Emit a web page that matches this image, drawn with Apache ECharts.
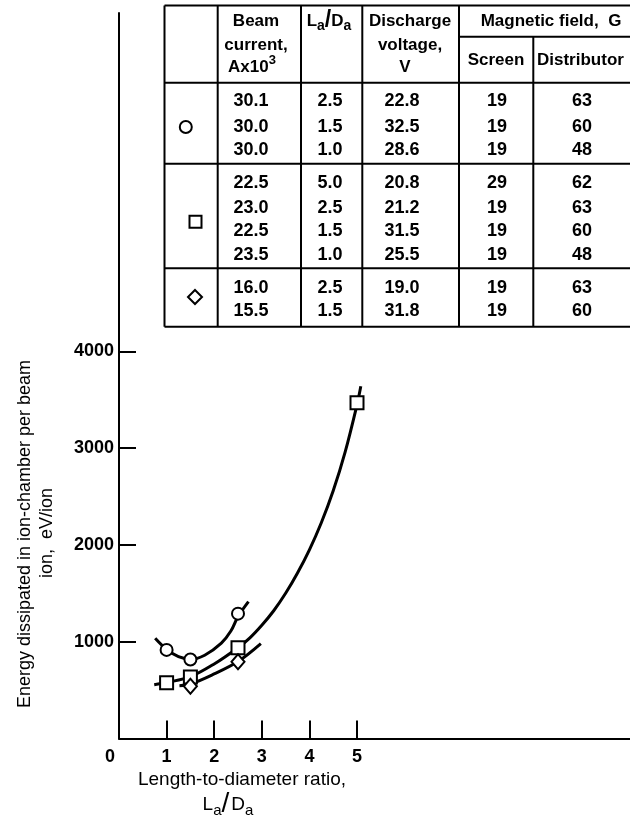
<!DOCTYPE html>
<html><head><meta charset="utf-8">
<script src="https://cdn.jsdelivr.net/npm/echarts@6/dist/echarts.min.js"></script>
<style>html,body{margin:0;padding:0;background:#fff}#c{width:630px;height:823px}</style>
</head><body><div id="c"></div>
<script>
// ---- data ----
const xTickValues = [1, 2, 3, 4, 5];
const xLabelValues = [0, 1, 2, 3, 4, 5];
const yTickValues = [1000, 2000, 3000, 4000];

const circlePoints  = [[1.0, 915], [1.5, 815], [2.5, 1290]];
const squarePoints  = [[1.0, 575], [1.5, 635], [2.5, 938], [5.0, 3470]];
const diamondPoints = [[1.5, 540], [2.5, 793]];

const circleCurve  = [[0.76, 1035], [1.0, 920], [1.25, 845], [1.5, 818], [1.8, 860], [2.15, 985], [2.35, 1110], [2.5, 1260], [2.72, 1415]];
const squareCurve  = [[0.74, 555], [1.0, 578], [1.5, 638], [2.0, 770], [2.5, 938], [2.75, 1040], [3.0, 1170], [3.25, 1320], [3.5, 1500], [3.75, 1710], [4.0, 1950], [4.25, 2230], [4.5, 2560], [4.75, 2960], [5.0, 3450], [5.08, 3640]];
const diamondCurve = [[1.27, 545], [1.5, 562], [1.95, 655], [2.5, 795], [2.98, 980]];

const circleRows  = [['30.1', '2.5', '22.8', '19', '63'], ['30.0', '1.5', '32.5', '19', '60'], ['30.0', '1.0', '28.6', '19', '48']];
const squareRows  = [['22.5', '5.0', '20.8', '29', '62'], ['23.0', '2.5', '21.2', '19', '63'], ['22.5', '1.5', '31.5', '19', '60'], ['23.5', '1.0', '25.5', '19', '48']];
const diamondRows = [['16.0', '2.5', '19.0', '19', '63'], ['15.5', '1.5', '31.8', '19', '60']];

const yTitle1 = 'Energy dissipated in ion-chamber per beam';
const yTitle2 = 'ion,  eV/ion';
const xTitle1 = 'Length-to-diameter ratio,';

// ---- layout ----
const FF = '"Liberation Sans", Arial, sans-serif';
const FS = 18;
const ctx = document.createElement('canvas').getContext('2d');
function tw(t, size, weight) { ctx.font = (weight || 'normal') + ' ' + size + 'px ' + FF; return ctx.measureText(t).width; }

const G = [];
function txt(t, x, y, opt) {
  opt = opt || {};
  G.push({ type: 'text', x: x, y: y, rotation: opt.rot || 0, silent: true, z: 10,
    style: { text: t, fontFamily: FF, fontSize: opt.size || FS, fontWeight: opt.weight || 'normal',
      fill: '#000', align: opt.align || 'center', verticalAlign: 'middle' } });
}
function seq(parts, cx, cy, base) {
  base = base || {};
  let total = 0;
  parts.forEach(p => { p.size = p.size || base.size || FS; p.weight = p.weight || base.weight; p.w = tw(p.t, p.size, p.weight); total += p.w + (p.gap || 0); });
  let x = cx - total / 2;
  parts.forEach(p => { txt(p.t, x, cy + (p.dy || 0), { size: p.size, weight: p.weight, align: 'left' }); x += p.w + (p.gap || 0); });
}
function line(x1, y1, x2, y2, w) {
  G.push({ type: 'line', silent: true, z: 10, shape: { x1, y1, x2, y2 }, style: { stroke: '#000', lineWidth: w || 2 } });
}

// table grid
const T = { left: 164.5, top: 5.5, right: 645, bottom: 326.7 };
const colX = [217.7, 301, 362.3, 459, 533.3];
line(T.left, T.top, T.right, T.top);
line(T.left, T.top, T.left, T.bottom);
colX.forEach((x, i) => line(x, i === 4 ? 36.7 : T.top, x, T.bottom));
line(459, 36.7, T.right, 36.7);
line(T.left, 82.7, T.right, 82.7);
line(T.left, 163.8, T.right, 163.8);
line(T.left, 268.3, T.right, 268.3);
line(T.left, T.bottom, T.right, T.bottom);

// header
const H = { weight: 'bold', size: 17 };
txt('Beam', 256, 21.5, H);
txt('current,', 256, 45, H);
seq([{ t: 'Ax10' }, { t: '3', size: 13, dy: -7 }], 252, 67, H);
seq([{ t: 'L' }, { t: 'a', size: 14, dy: 5 }, { t: '/', size: 23, dy: -1 }, { t: 'D' }, { t: 'a', size: 14, dy: 5 }], 329, 21.5, H);
txt('Discharge', 410, 21.5, H);
txt('voltage,', 410, 45, H);
txt('V', 405, 67, H);
txt('Magnetic field,  G', 551, 21.5, H);
txt('Screen', 496, 60, H);
txt('Distributor', 537, 60, { align: 'left', weight: 'bold', size: 17 });

// rows
const valX = [251, 330, 402, 497, 582];
function rows(data, ys) {
  data.forEach((r, i) => r.forEach((v, j) => txt(v, valX[j], ys[i], { weight: 'bold', size: 18 })));
}
rows(circleRows, [101.5, 127, 150]);
rows(squareRows, [183.5, 208, 231.5, 255]);
rows(diamondRows, [288.5, 311.5]);

// table symbols
G.push({ type: 'circle', silent: true, z: 10, shape: { cx: 185.8, cy: 127, r: 6 }, style: { fill: '#fff', stroke: '#000', lineWidth: 2 } });
G.push({ type: 'rect', silent: true, z: 10, shape: { x: 189.5, y: 215.7, width: 12, height: 12 }, style: { fill: '#fff', stroke: '#000', lineWidth: 2 } });
G.push({ type: 'polygon', silent: true, z: 10, shape: { points: [[195, 290], [202, 297], [195, 304], [188, 297]] }, style: { fill: '#fff', stroke: '#000', lineWidth: 2 } });

// axis titles
txt(yTitle1, 25, 534, { rot: Math.PI / 2, size: 18 });
txt(yTitle2, 47, 533, { rot: Math.PI / 2, size: 18 });
txt(xTitle1, 242, 780, { size: 19 });
seq([{ t: 'L' }, { t: 'a', size: 15, dy: 6 }, { t: '/', size: 28, dy: -1, gap: 2 }, { t: 'D' }, { t: 'a', size: 15, dy: 6 }], 228, 805, { size: 19 });

// ---- chart ----
const chart = echarts.init(document.getElementById('c'), null, { renderer: 'canvas' });
const mk = () => ({ color: '#fff', borderColor: '#000', borderWidth: 2, opacity: 1 });
const lineS = (d) => ({ type: 'line', data: d, smooth: 0.35, showSymbol: false, symbol: 'none', silent: true, z: 2,
  lineStyle: { color: '#000', width: 3 }, animation: false });
const scat = (d, s, size) => ({ type: 'scatter', data: d, symbol: s, symbolSize: size, silent: true, z: 3,
  itemStyle: mk(), animation: false });

chart.setOption({
  backgroundColor: '#fff',
  animation: false,
  grid: { left: 119, right: 0, top: 13, bottom: 84.6, containLabel: false, outerBoundsMode: 'none' },
  xAxis: {
    type: 'value', min: 0, max: 10.735,
    axisLine: { show: true, onZero: true, lineStyle: { color: '#000', width: 2 } },
    axisTick: { show: true, inside: true, length: 18, customValues: xTickValues, lineStyle: { color: '#000', width: 2 } },
    axisLabel: { show: true, customValues: xLabelValues, margin: 10, color: '#000', fontFamily: FF, fontSize: 18, fontWeight: 'bold',
      formatter: v => (v === 0 ? '{z|0}' : String(v)),
      rich: { z: { fontFamily: FF, fontSize: 18, fontWeight: 'bold', color: '#000', padding: [0, 18, 0, 0] } } },
    splitLine: { show: false }
  },
  yAxis: {
    type: 'value', min: 0, max: 7500,
    axisLine: { show: true, lineStyle: { color: '#000', width: 2 } },
    axisTick: { show: true, inside: true, length: 17, customValues: yTickValues, lineStyle: { color: '#000', width: 2 } },
    axisLabel: { show: true, customValues: yTickValues, margin: 5, color: '#000', fontFamily: FF, fontSize: 18, fontWeight: 'bold',
      formatter: v => String(v) },
    splitLine: { show: false }
  },
  graphic: G,
  series: [
    lineS(circleCurve), lineS(squareCurve), lineS(diamondCurve),
    scat(circlePoints, 'circle', 12), scat(squarePoints, 'rect', 13), scat(diamondPoints, 'diamond', [13, 15])
  ]
});
</script>
</body></html>
